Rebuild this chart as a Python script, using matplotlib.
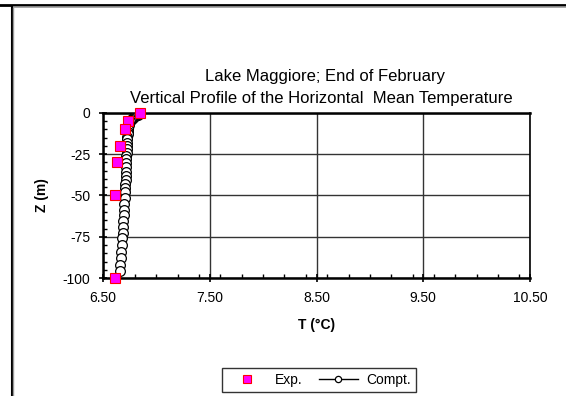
import matplotlib
matplotlib.use('Agg')
import matplotlib.pyplot as plt
from matplotlib.lines import Line2D
from matplotlib.ticker import MultipleLocator, FormatStrFormatter

plt.rcParams['font.family'] = ['Liberation Sans', 'DejaVu Sans']
plt.rcParams['axes.unicode_minus'] = False

# --- donnees ---
exp_depth = [0, -5, -10, -20, -30, -50, -100]
exp_temp = [6.85, 6.73, 6.71, 6.66, 6.63, 6.61, 6.61]

comp_depth = [0, -0.5, -1, -1.5, -2, -2.5, -3, -3.5, -4, -5, -6, -7, -8, -9, -10,
              -11.5, -13, -14.5, -16, -18, -20, -22, -24, -26, -28, -30.5, -33,
              -35.5, -38, -40.5, -43, -45.5, -48, -51.5, -55, -58.5, -62, -65.5,
              -69, -72.5, -76, -80, -84, -88, -92, -96]
comp_temp = [6.85, 6.84, 6.83, 6.815, 6.80, 6.79, 6.78, 6.77, 6.76, 6.75, 6.745,
             6.74, 6.737, 6.735, 6.733, 6.731, 6.73, 6.729, 6.728, 6.727, 6.726,
             6.724, 6.722, 6.72, 6.719, 6.718, 6.716, 6.715, 6.713, 6.711, 6.709,
             6.707, 6.705, 6.702, 6.699, 6.696, 6.693, 6.69, 6.687, 6.684, 6.68,
             6.676, 6.672, 6.667, 6.663, 6.659]

x_ticks = [6.5, 7.5, 8.5, 9.5, 10.5]
y_ticks = [0, -25, -50, -75, -100]

fig = plt.figure(figsize=(5.66, 3.96), dpi=100)
ax = fig.add_axes([103/566, 1-278/396, 427/566, 165/396])

ax.plot(comp_temp, comp_depth, color='black', lw=1, marker='o', ms=7,
        mfc='white', mec='black', mew=0.9, label='Compt.', zorder=3)
ax.plot(exp_temp, exp_depth, ls='none', marker='s', ms=7, mfc='#FF00FF',
        mec='#FF0000', mew=0.8, label='Exp.', zorder=4, clip_on=False)

ax.set_xlim(6.5, 10.5)
ax.set_ylim(-100, 0)
ax.set_xticks(x_ticks)
ax.set_yticks(y_ticks)
ax.xaxis.set_major_formatter(FormatStrFormatter('%.2f'))
ax.xaxis.set_minor_locator(MultipleLocator(0.2))
ax.yaxis.set_minor_locator(MultipleLocator(5))
ax.tick_params(which='major', direction='inout', length=6, width=1.2,
               labelsize=10, pad=6)
ax.tick_params(which='minor', direction='in', length=3, width=1)
ax.grid(True, which='major', color='#333333', lw=1)
for s in ax.spines.values():
    s.set_linewidth(1.2)
ax.spines['left'].set_linewidth(1.8)
ax.spines['bottom'].set_linewidth(1.8)
ax.spines['top'].set_linewidth(1.8)

ax.set_xlabel('T (°C)', fontsize=10, fontweight='bold', labelpad=10)
ax.set_ylabel('Z (m)', fontsize=10, fontweight='bold', labelpad=10)

fig.text(0.575, 1-76/396, 'Lake Maggiore; End of February', ha='center',
         va='center', fontsize=12)
fig.text(0.568, 1-99/396, 'Vertical Profile of the Horizontal  Mean Temperature',
         ha='center', va='center', fontsize=12)

h, l = ax.get_legend_handles_labels()
leg = fig.legend(h[::-1], l[::-1], ncol=2, loc='center',
                 bbox_to_anchor=(319/566, 1-380/396), fontsize=10,
                 frameon=True, fancybox=False, edgecolor='black',
                 handlelength=2.8, handletextpad=0.6, columnspacing=1.2,
                 borderpad=0.35)
leg.get_frame().set_linewidth(1)
leg.legend_handles[0].set_markersize(5.5)
leg.legend_handles[1].set_markersize(4.5)

# cadre du graphique (coupe)
fig.add_artist(Line2D([0, 1], [1-4.5/396, 1-4.5/396], color='black', lw=2))
fig.add_artist(Line2D([12/566, 1], [1-7/396, 1-7/396], color='#999999', lw=1.2))
fig.add_artist(Line2D([11.5/566, 11.5/566], [0, 1-7/396], color='black', lw=1.5))
fig.add_artist(Line2D([13/566, 13/566], [0, 1-8/396], color='#999999', lw=1))

fig.savefig('out.png', dpi=100)
